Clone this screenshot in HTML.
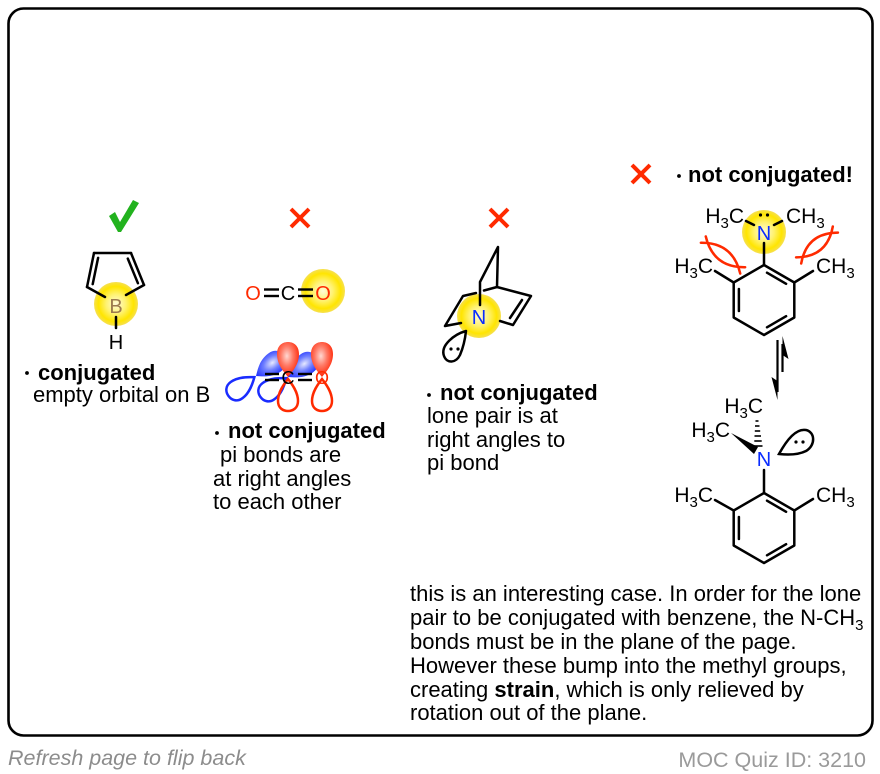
<!DOCTYPE html>
<html><head><meta charset="utf-8"><style>
html,body{margin:0;padding:0;background:#fff;}
svg{display:block;}
text{font-family:"Liberation Sans",Arial,sans-serif;}
</style></head><body>
<svg width="880" height="774" viewBox="0 0 880 774" xmlns="http://www.w3.org/2000/svg">
<defs>
<radialGradient id="yel" cx="50%" cy="50%" r="50%">
<stop offset="0%" stop-color="#fffbd8"/>
<stop offset="45%" stop-color="#fff270"/>
<stop offset="80%" stop-color="#ffe500"/>
<stop offset="100%" stop-color="#f6e050"/>
</radialGradient>
<radialGradient id="redg" cx="45%" cy="40%" r="62%">
<stop offset="0%" stop-color="#ffd8d2"/>
<stop offset="45%" stop-color="#ff7a66"/>
<stop offset="100%" stop-color="#ff2200"/>
</radialGradient>
<radialGradient id="blug" cx="45%" cy="40%" r="62%">
<stop offset="0%" stop-color="#e6e9ff"/>
<stop offset="45%" stop-color="#7080ff"/>
<stop offset="100%" stop-color="#1426ff"/>
</radialGradient>
<path id="lobeUp" d="M0,0 C-4,-5 -11,-12 -11,-23 C-11,-31 -6,-35 0,-35 C6,-35 11,-31 11,-23 C11,-12 4,-5 0,0 Z"/>
<path id="lobeDn" d="M0,2 C-4,7 -10,15 -10,24 C-10,31 -5,34 0,34 C5,34 10,31 10,24 C10,15 4,7 0,2 Z"/>
</defs>

<rect x="8.5" y="8.5" width="864" height="727" rx="15" ry="15" fill="none" stroke="#000" stroke-width="2.6"/>

<!-- Panel 1 -->
<polygon points="109,216 115,212 120,222 133,200 139,203 121,232 118,232" fill="#22b21e"/>
<circle cx="116" cy="304" r="22" fill="url(#yel)"/>
<g stroke="#000" stroke-width="2.5" fill="none" stroke-linecap="round">
<line x1="87" y1="287" x2="94" y2="253"/>
<line x1="92.7" y1="284.1" x2="98.1" y2="257.9"/>
<line x1="94" y1="253" x2="131" y2="253"/>
<line x1="131" y1="253" x2="144" y2="285"/>
<line x1="127.8" y1="258.6" x2="137.9" y2="283.2"/>
<line x1="87" y1="287" x2="105" y2="297"/>
<line x1="144" y1="285" x2="126" y2="295"/>
<line x1="116" y1="317" x2="116" y2="328"/>
</g>
<text x="116" y="313" font-size="20" text-anchor="middle" fill="#9c7a4e">B</text>
<text x="116" y="349" font-size="20" text-anchor="middle">H</text>
<circle cx="27" cy="373" r="1.9" fill="#000"/>
<text x="38" y="380" font-size="22" font-weight="bold">conjugated</text>
<text x="33" y="402" font-size="22">empty orbital on B</text>

<!-- Panel 2 -->
<g stroke="#ff2a00" stroke-width="4">
<line x1="291" y1="209" x2="309" y2="227"/><line x1="309" y1="209" x2="291" y2="227"/>
</g>
<circle cx="323" cy="291" r="22" fill="url(#yel)"/>
<text x="253" y="300" font-size="20" text-anchor="middle" fill="#ff2a00">O</text>
<text x="288" y="300" font-size="20" text-anchor="middle">C</text>
<text x="323" y="300" font-size="20" text-anchor="middle" fill="#ff2a00">O</text>
<g stroke="#000" stroke-width="2.4">
<line x1="264" y1="289.5" x2="279" y2="289.5"/><line x1="264" y1="296" x2="279" y2="296"/>
<line x1="298" y1="289.5" x2="313" y2="289.5"/><line x1="298" y1="296" x2="313" y2="296"/>
</g>

<g transform="translate(256,376) rotate(54)">
<use href="#lobeDn" fill="none" stroke="#1a2cff" stroke-width="2.5"/>
<use href="#lobeUp" fill="url(#blug)"/>
</g>
<g transform="translate(288,377) rotate(54)">
<use href="#lobeDn" fill="none" stroke="#1a2cff" stroke-width="2.5"/>
<use href="#lobeUp" fill="url(#blug)"/>
</g>
<g transform="translate(288,377)">
<use href="#lobeUp" fill="url(#redg)"/>
<use href="#lobeDn" fill="none" stroke="#ff2a00" stroke-width="2.5"/>
</g>
<g transform="translate(322,377)">
<use href="#lobeUp" fill="url(#redg)"/>
<use href="#lobeDn" fill="none" stroke="#ff2a00" stroke-width="2.5"/>
</g>
<g stroke="#000" stroke-width="2.4">
<line x1="265" y1="374" x2="279" y2="374"/><line x1="265" y1="380" x2="279" y2="380"/>
<line x1="298" y1="374" x2="312" y2="374"/><line x1="298" y1="380" x2="312" y2="380"/>
</g>
<text x="288" y="384" font-size="18" text-anchor="middle">C</text>
<text x="322" y="384" font-size="18" text-anchor="middle" fill="#ff2a00">O</text>

<circle cx="217" cy="433" r="1.9" fill="#000"/>
<text x="228" y="438" font-size="22" font-weight="bold">not conjugated</text>
<text x="220" y="462" font-size="22">pi bonds are</text>
<text x="213" y="486" font-size="22">at right angles</text>
<text x="213" y="509" font-size="22">to each other</text>

<!-- Panel 3 -->
<g stroke="#ff2a00" stroke-width="4">
<line x1="490" y1="209" x2="508" y2="227"/><line x1="508" y1="209" x2="490" y2="227"/>
</g>
<circle cx="479" cy="316" r="22" fill="url(#yel)"/>
<g stroke="#000" stroke-width="2.5" fill="none" stroke-linecap="round" stroke-linejoin="round">
<polyline points="480,305 480,282 498,247 497,287 531,296 513,325 500,321"/>
<line x1="510" y1="318" x2="522" y2="300"/>
<line x1="497" y1="287" x2="484" y2="290.5"/>
<polyline points="476,293 463,296 445,326 461,323"/>
<path d="M466,331 C455,334 440,345 444,356 C447,364 456,363 460,355 C463,348 465,340 466,331 Z"/>
</g>
<circle cx="451" cy="349" r="1.6" fill="#000"/>
<circle cx="458" cy="349" r="1.6" fill="#000"/>
<text x="479" y="324" font-size="20" text-anchor="middle" fill="#0a2cff">N</text>

<circle cx="429" cy="395" r="1.9" fill="#000"/>
<text x="440" y="400" font-size="22" font-weight="bold">not conjugated</text>
<text x="427" y="423" font-size="22">lone pair is at</text>
<text x="427" y="447" font-size="22">right angles to</text>
<text x="427" y="470" font-size="22">pi bond</text>

<!-- Panel 4 -->
<g stroke="#ff2a00" stroke-width="4">
<line x1="632" y1="165" x2="650" y2="183"/><line x1="650" y1="165" x2="632" y2="183"/>
</g>
<circle cx="679" cy="176" r="1.9" fill="#000"/>
<text x="688" y="182" font-size="22" font-weight="bold">not conjugated!</text>

<circle cx="764" cy="232" r="22" fill="url(#yel)"/>
<text x="764" y="240" font-size="20" text-anchor="middle" fill="#0a2cff">N</text>
<circle cx="760.5" cy="215" r="1.6" fill="#000"/>
<circle cx="767.5" cy="215" r="1.6" fill="#000"/>
<text x="744" y="223" font-size="21" text-anchor="end">H<tspan font-size="15" dy="5">3</tspan><tspan dy="-5">C</tspan></text>
<text x="786" y="223" font-size="21">CH<tspan font-size="15" dy="5">3</tspan></text>
<text x="713" y="273" font-size="21" text-anchor="end">H<tspan font-size="15" dy="5">3</tspan><tspan dy="-5">C</tspan></text>
<text x="816" y="273" font-size="21">CH<tspan font-size="15" dy="5">3</tspan></text>
<g stroke="#000" stroke-width="2.5" fill="none" stroke-linecap="round" stroke-linejoin="round">
<line x1="746" y1="221" x2="754" y2="225"/>
<line x1="774" y1="225" x2="782" y2="221"/>
<line x1="764" y1="243" x2="764" y2="265"/>
<polygon points="764,265 794.3,282.5 794.3,317.5 764,335 733.7,317.5 733.7,282.5"/>
<line x1="767" y1="272.7" x2="786.1" y2="283.8"/>
<line x1="786.1" y1="316.2" x2="767" y2="327.3"/>
<line x1="738.9" y1="311" x2="738.9" y2="289"/>
<line x1="733.7" y1="282.5" x2="715" y2="271"/>
<line x1="794.3" y1="282.5" x2="813" y2="271"/>
</g>
<g fill="none" stroke="#ff2a00" stroke-width="2.5" stroke-linecap="round">
<g transform="translate(723,255) rotate(38)">
<path d="M-25,4 Q0,-16 25,4"/><path d="M-25,-4 Q0,16 25,-4"/>
</g>
<g transform="translate(817,245) rotate(-40)">
<path d="M-24,4 Q0,-16 24,4"/><path d="M-24,-4 Q0,16 24,-4"/>
</g>
</g>

<g stroke="#000" stroke-width="2.2">
<line x1="777.5" y1="340" x2="777.5" y2="392"/>
<line x1="782.5" y1="344" x2="782.5" y2="372"/>
</g>
<polygon points="777.5,400 771.5,377 777.5,381" fill="#000"/>
<polygon points="782.5,336 788.5,359 782.5,355" fill="#000"/>

<text x="764" y="466" font-size="20" text-anchor="middle" fill="#0a2cff">N</text>
<text x="763" y="413" font-size="21" text-anchor="end">H<tspan font-size="15" dy="5">3</tspan><tspan dy="-5">C</tspan></text>
<text x="730" y="437" font-size="21" text-anchor="end">H<tspan font-size="15" dy="5">3</tspan><tspan dy="-5">C</tspan></text>
<g stroke="#000" stroke-width="1.6">
<line x1="755.5" y1="421" x2="758.5" y2="421"/>
<line x1="755" y1="426" x2="759.5" y2="426"/>
<line x1="754.8" y1="431" x2="760.2" y2="431"/>
<line x1="754.5" y1="436" x2="761" y2="436"/>
<line x1="754.3" y1="441" x2="761.7" y2="441"/>
<line x1="754" y1="446" x2="762.5" y2="446"/>
</g>
<polygon points="731,433 758,447 754,454" fill="#000"/>
<path d="M779,454 C785,443 795,428 806,430 C815,432 816,445 806,451 C798,455 788,455 779,454 Z" fill="none" stroke="#000" stroke-width="2.5"/>
<circle cx="796" cy="442" r="1.6" fill="#000"/>
<circle cx="803" cy="442" r="1.6" fill="#000"/>
<text x="713" y="502" font-size="21" text-anchor="end">H<tspan font-size="15" dy="5">3</tspan><tspan dy="-5">C</tspan></text>
<text x="816" y="502" font-size="21">CH<tspan font-size="15" dy="5">3</tspan></text>
<g stroke="#000" stroke-width="2.5" fill="none" stroke-linecap="round" stroke-linejoin="round">
<line x1="764" y1="470" x2="764" y2="493"/>
<polygon points="764,493 794.3,510.5 794.3,545.5 764,563 733.7,545.5 733.7,510.5"/>
<line x1="767" y1="500.7" x2="786.1" y2="511.8"/>
<line x1="786.1" y1="544.2" x2="767" y2="555.3"/>
<line x1="738.9" y1="539" x2="738.9" y2="517"/>
<line x1="733.7" y1="510.5" x2="715" y2="500"/>
<line x1="794.3" y1="510.5" x2="813" y2="499"/>
</g>

<g font-size="22">
<text x="410" y="601">this is an interesting case. In order for the lone</text>
<text x="410" y="625">pair to be conjugated with benzene, the N-CH<tspan font-size="15" dy="5">3</tspan></text>
<text x="410" y="649">bonds must be in the plane of the page.</text>
<text x="410" y="673">However these bump into the methyl groups,</text>
<text x="410" y="697">creating <tspan font-weight="bold">strain</tspan>, which is only relieved by</text>
<text x="410" y="720">rotation out of the plane.</text>
</g>

<text x="8" y="765" font-size="21.5" font-style="italic" fill="#8c8c8c">Refresh page to flip back</text>
<text x="866" y="767" font-size="21.5" text-anchor="end" fill="#9a9a9a">MOC Quiz ID: 3210</text>
</svg>
</body></html>
